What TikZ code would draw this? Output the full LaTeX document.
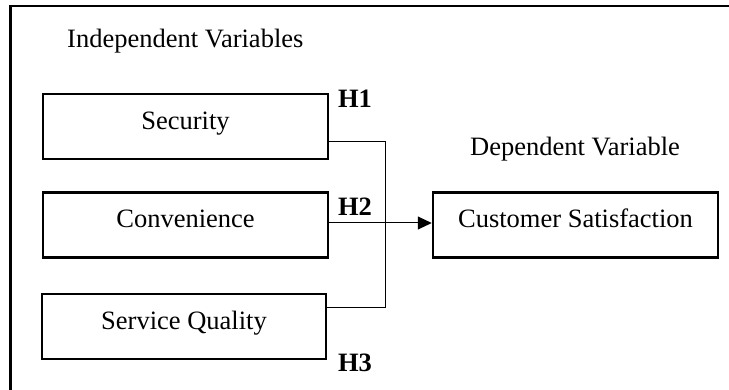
\documentclass[tikz,border=0pt]{standalone}
\usepackage{fontspec}
\setmainfont{Liberation Serif}
\usetikzlibrary{arrows.meta}
\begin{document}
\begin{tikzpicture}[x=1pt,y=-1pt,
  every node/.style={font=\fontsize{26.5}{30}\selectfont},
  varbox/.style={draw, line width=2.5pt, minimum width=285pt, minimum height=65pt,
    inner sep=0pt, text height=18pt, text depth=12.4pt},
  hlabel/.style={font=\fontsize{26.5}{30}\selectfont\bfseries, inner sep=0pt},
  plain/.style={inner sep=0pt},
  link/.style={line width=1pt}]
\useasboundingbox (0,0) rectangle (729,390);
\draw[line width=2.5pt] (740,6) -- (10.5,6) -- (10.5,400);
\node[plain, anchor=base west] (iv) at (67,48) {Independent Variables};
\node[plain, anchor=base west] (dv) at (470,156) {Dependent Variable};
\node[varbox] (sec) at (185.5,126.5) {Security};
\node[varbox] (conv) at (185.5,225) {Convenience};
\node[varbox, minimum width=284pt] (sq) at (184,326.5) {Service Quality};
\node[varbox] (cs) at (575.5,225) {Customer Satisfaction};
\node[hlabel] (h1) at (355,98.5) {H1};
\node[hlabel] (h2) at (355,206.5) {H2};
\node[hlabel] (h3) at (355,363) {H3};
\coordinate (j1) at (385,142);
\coordinate (j3) at (385,308);
\coordinate (a2) at (0,223);
\draw[link] (sec.east |- j1) -- (j1) -- (j3) -- (sq.east |- j3);
\draw[link, -{Triangle[length=14pt,width=13pt]}] (conv.east |- a2) -- (cs.west |- a2);
\end{tikzpicture}
\end{document}
